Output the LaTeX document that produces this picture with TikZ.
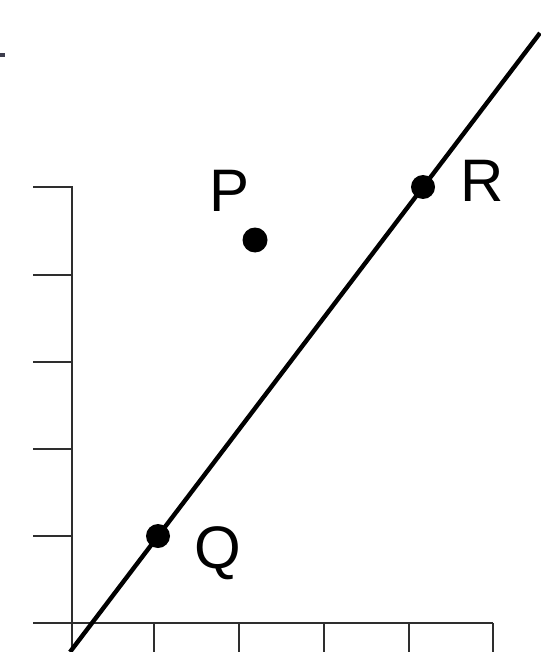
\documentclass[tikz,border=0pt]{standalone}
\usepackage{fontspec}
\setmainfont{Liberation Sans}
\begin{document}
\begin{tikzpicture}[x=1pt,y=-1pt,
  axis/.style={draw=black!82, line width=1.4pt},
  dot/.style={circle, fill=black, inner sep=0pt, minimum size=24pt},
  lbl/.style={font=\fontsize{60}{60}\selectfont, inner sep=0pt}]
\useasboundingbox (0,0) rectangle (540,652);
% small mark top-left
\definecolor{markgray}{RGB}{62,62,78}
\fill[markgray] (0,52.7) rectangle (5,57.3);
% axes
\draw[axis] (33,187) -- (72,187) -- (72,652);
\foreach \y in {275,362,449,536} \draw[axis] (33,\y) -- (72,\y);
\draw[axis] (33,623) -- (493,623);
\foreach \x in {154,239,324,409,493} \draw[axis] (\x,623) -- (\x,652);
% line
\coordinate (lb) at (70,652);
\coordinate (lt) at (540,33);
\draw[line width=4.4pt] (lb) -- (lt);
% points
\node[dot] (Q) at (158,536) {};
\node[dot] (R) at (423,187) {};
\node[dot, minimum size=25pt] (P) at (255,240) {};
\node[lbl] (Pl) at (230,191) {P};
\node[lbl] (Rl) at (482,181) {R};
\node[lbl] (Ql) at (218,553) {Q};
\end{tikzpicture}
\end{document}
